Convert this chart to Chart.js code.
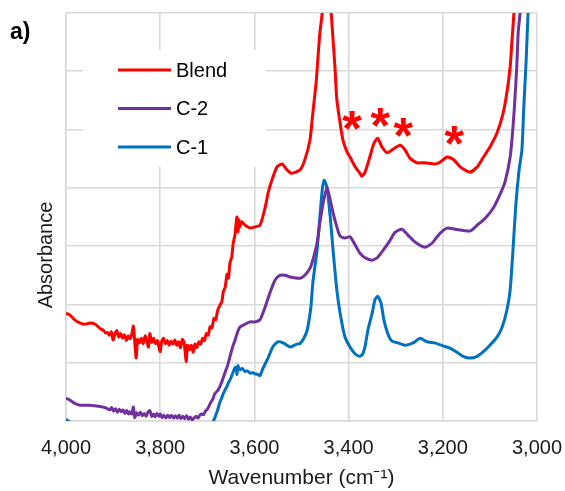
<!DOCTYPE html>
<html>
<head>
<meta charset="utf-8">
<script src="https://cdn.jsdelivr.net/npm/chart.js@4.4.1/dist/chart.umd.min.js"></script>
<style>
  html, body { margin: 0; padding: 0; background: #fff; }
  #chart { display: block; }
</style>
</head>
<body>
<canvas id="chart" width="565" height="491"></canvas>
<script>
// Series names (legend order)
const seriesNames = ['Blend', 'C-2', 'C-1'];

// [wavenumber, absorbance] (offset, arbitrary units)
const blend = [
    [4000, 1.85], [3992, 1.82], [3981, 1.73], [3970, 1.68], [3960, 1.66], [3949, 1.68],
    [3938, 1.66], [3928, 1.59], [3920, 1.55], [3916, 1.51], [3912, 1.52], [3908, 1.47],
    [3904, 1.53], [3900, 1.39], [3896, 1.50], [3892, 1.55], [3888, 1.44], [3884, 1.50],
    [3880, 1.42], [3876, 1.48], [3872, 1.38], [3868, 1.46], [3864, 1.41], [3860, 1.50],
    [3857, 1.63], [3854, 1.35], [3851, 1.08], [3848, 1.40], [3844, 1.34], [3840, 1.42],
    [3836, 1.33], [3832, 1.46], [3828, 1.36], [3825, 1.27], [3822, 1.50], [3818, 1.35],
    [3814, 1.42], [3810, 1.33], [3806, 1.38], [3803, 1.28], [3800, 1.19], [3797, 1.36],
    [3793, 1.42], [3789, 1.33], [3785, 1.38], [3781, 1.30], [3777, 1.37], [3773, 1.32],
    [3769, 1.39], [3765, 1.30], [3761, 1.36], [3757, 1.26], [3753, 1.40], [3749, 1.34],
    [3745, 1.02], [3742, 1.30], [3738, 1.22], [3734, 1.30], [3730, 1.18], [3726, 1.32],
    [3722, 1.26], [3718, 1.36], [3714, 1.32], [3710, 1.42], [3706, 1.38], [3702, 1.50],
    [3698, 1.47], [3694, 1.62], [3690, 1.60], [3686, 1.76], [3682, 1.74], [3678, 1.90],
    [3673, 1.99], [3669, 2.05], [3666, 2.22], [3662, 2.30], [3658, 2.52], [3655, 2.45],
    [3652, 2.71], [3648, 2.82], [3645, 3.05], [3641, 3.20], [3639, 3.38], [3637, 3.50],
    [3635, 3.25], [3633, 3.45], [3631, 3.33], [3627, 3.42], [3620, 3.36], [3609, 3.31],
    [3599, 3.33], [3588, 3.36], [3577, 3.67], [3571, 3.91], [3563, 4.13], [3552, 4.36],
    [3541, 4.41], [3531, 4.31], [3520, 4.25], [3503, 4.31], [3493, 4.48], [3482, 4.82],
    [3476, 5.28], [3469, 5.80], [3465, 6.24], [3461, 6.66], [3456, 7.00], [3447, 8.00],
    [3437, 7.00], [3433, 6.54], [3429, 6.07], [3425, 5.51], [3418, 5.11], [3412, 4.82],
    [3403, 4.61], [3397, 4.53], [3386, 4.36], [3376, 4.25], [3372, 4.20], [3365, 4.27],
    [3355, 4.53], [3346, 4.77], [3338, 4.85], [3329, 4.70], [3318, 4.60], [3308, 4.65],
    [3291, 4.73], [3280, 4.65], [3270, 4.51], [3255, 4.43], [3238, 4.43], [3217, 4.41],
    [3206, 4.44], [3191, 4.53], [3178, 4.49], [3163, 4.36], [3142, 4.27], [3127, 4.36],
    [3115, 4.51], [3100, 4.70], [3085, 4.94], [3072, 5.28], [3064, 5.63], [3057, 6.07],
    [3053, 6.54], [3049, 7.00], [3040, 8.30], [3000, 12.0]
];

const c2 = [
    [4000, 0.39], [3992, 0.36], [3981, 0.30], [3970, 0.27], [3949, 0.27], [3938, 0.26],
    [3928, 0.25], [3917, 0.23], [3907, 0.19], [3903, 0.23], [3899, 0.17], [3895, 0.21],
    [3891, 0.15], [3887, 0.20], [3883, 0.16], [3879, 0.19], [3875, 0.13], [3871, 0.18],
    [3867, 0.12], [3864, 0.16], [3860, 0.12], [3857, 0.24], [3854, 0.06], [3850, 0.14],
    [3846, 0.10], [3842, 0.15], [3838, 0.09], [3834, 0.13], [3830, 0.08], [3826, 0.15],
    [3822, 0.18], [3818, 0.08], [3814, 0.12], [3811, 0.07], [3807, 0.13], [3803, 0.08],
    [3800, 0.12], [3796, 0.06], [3792, 0.10], [3788, 0.05], [3784, 0.10], [3780, 0.06],
    [3776, 0.10], [3772, 0.05], [3768, 0.09], [3764, 0.05], [3760, 0.10], [3756, 0.04],
    [3752, 0.08], [3748, 0.04], [3744, 0.09], [3740, 0.03], [3736, 0.07], [3732, 0.02],
    [3728, 0.05], [3724, 0.08], [3720, 0.05], [3716, 0.10], [3712, 0.12], [3708, 0.11],
    [3704, 0.17], [3700, 0.20], [3696, 0.26], [3692, 0.33], [3688, 0.38], [3684, 0.47],
    [3678, 0.52], [3673, 0.60], [3668, 0.70], [3662, 0.84], [3657, 0.95], [3652, 1.10],
    [3647, 1.25], [3641, 1.39], [3636, 1.52], [3631, 1.61], [3620, 1.66], [3609, 1.70],
    [3599, 1.70], [3588, 1.74], [3577, 1.96], [3567, 2.20], [3556, 2.42], [3546, 2.50],
    [3535, 2.50], [3524, 2.47], [3503, 2.45], [3493, 2.50], [3482, 2.62], [3476, 2.76],
    [3467, 3.05], [3461, 3.40], [3454, 3.74], [3446, 4.00], [3439, 3.79], [3433, 3.57],
    [3425, 3.33], [3418, 3.17], [3408, 3.14], [3397, 3.16], [3386, 3.02], [3376, 2.88],
    [3365, 2.80], [3350, 2.76], [3338, 2.81], [3323, 2.97], [3312, 3.10], [3301, 3.24],
    [3287, 3.29], [3274, 3.19], [3259, 3.07], [3238, 2.98], [3223, 3.05], [3206, 3.22],
    [3191, 3.31], [3174, 3.29], [3142, 3.26], [3127, 3.36], [3110, 3.48], [3093, 3.65],
    [3079, 3.88], [3068, 4.10], [3057, 4.53], [3051, 5.04], [3047, 5.51], [3043, 6.07],
    [3040, 6.66], [3036, 7.00], [3028, 8.50], [3000, 12.0]
];

const c1 = [
    [4000, 0.03], [3990, -0.03], [3970, -0.12], [3900, -0.25], [3800, -0.30], [3720, -0.22],
    [3700, -0.12], [3688, -0.02], [3682, 0.10], [3677, 0.22], [3673, 0.33], [3670, 0.38],
    [3667, 0.45], [3663, 0.52], [3658, 0.60], [3655, 0.66], [3652, 0.70], [3648, 0.78],
    [3645, 0.84], [3641, 0.92], [3638, 0.86], [3637, 0.80], [3635, 0.95], [3633, 0.90],
    [3631, 0.88], [3626, 0.90], [3620, 0.85], [3615, 0.86], [3609, 0.82], [3604, 0.83],
    [3599, 0.81], [3593, 0.80], [3588, 0.78], [3582, 0.90], [3571, 1.08], [3561, 1.27],
    [3550, 1.36], [3539, 1.34], [3524, 1.27], [3510, 1.32], [3503, 1.33], [3495, 1.42],
    [3488, 1.56], [3480, 1.96], [3476, 2.37], [3467, 2.93], [3461, 3.50], [3456, 3.96],
    [3452, 4.13], [3446, 4.01], [3439, 3.50], [3433, 2.93], [3425, 2.25], [3418, 1.85],
    [3408, 1.45], [3397, 1.27], [3386, 1.15], [3376, 1.11], [3370, 1.15], [3365, 1.28],
    [3359, 1.56], [3350, 1.85], [3344, 2.08], [3338, 2.14], [3331, 2.02], [3325, 1.73],
    [3316, 1.48], [3308, 1.37], [3295, 1.34], [3280, 1.30], [3263, 1.34], [3248, 1.42],
    [3234, 1.36], [3217, 1.34], [3200, 1.29], [3185, 1.25], [3170, 1.18], [3157, 1.11],
    [3142, 1.08], [3127, 1.11], [3115, 1.18], [3100, 1.30], [3085, 1.44], [3074, 1.61],
    [3064, 1.90], [3057, 2.25], [3051, 2.93], [3045, 3.70], [3038, 4.31], [3032, 4.65],
    [3028, 5.39], [3023, 6.19], [3019, 7.00], [3010, 8.50], [3000, 10.0]
];

// Asterisk marks above the Blend bands
const asteriskWave = [3393, 3333, 3284, 3176];
const asteriskAbs = [5.16, 5.21, 5.03, 4.89];

// Axis settings
const xMin = 3000, xMax = 4000, xStep = 200;
const yMin = 0, yMax = 7;

const colors = ['#ff0000', '#7030a0', '#0070c0'];
const FONT = "'Liberation Sans', Arial, sans-serif";
Chart.defaults.font.family = FONT;

function toPoints(arr) {
    return arr.map(p => ({ x: p[0], y: p[1] }));
}

// white legend box inside the plot, like the reference
const legendBox = {
    id: 'legendBox',
    beforeDatasetsDraw(chart) {
        const ctx = chart.ctx;
        const a = chart.chartArea;
        const x0 = a.left + 17, y0 = a.top + 37;
        ctx.save();
        ctx.fillStyle = '#fff';
        ctx.fillRect(x0, y0, 183, 117);
        ctx.font = '20px ' + FONT;
        ctx.textBaseline = 'middle';
        seriesNames.forEach((name, i) => {
            const y = a.top + 57 + i * 38.5;
            ctx.strokeStyle = colors[i];
            ctx.lineWidth = 3;
            ctx.beginPath();
            ctx.moveTo(a.left + 52, y);
            ctx.lineTo(a.left + 105, y);
            ctx.stroke();
            ctx.fillStyle = '#000';
            ctx.fillText(name, a.left + 110, y + 1);
        });
        ctx.restore();
    }
};

const extras = {
    id: 'extras',
    afterDatasetsDraw(chart) {
        const ctx = chart.ctx;
        const xs = chart.scales.x, ys = chart.scales.y;
        ctx.save();
        ctx.fillStyle = '#ff0000';
        ctx.font = 'bold 50px ' + FONT;
        ctx.textAlign = 'center';
        ctx.textBaseline = 'alphabetic';
        const m = ctx.measureText('*');
        const mid = (m.actualBoundingBoxAscent - m.actualBoundingBoxDescent) / 2;
        asteriskWave.forEach((w, i) => {
            const px = xs.getPixelForValue(w);
            const py = ys.getPixelForValue(asteriskAbs[i]);
            ctx.fillText('*', px, py + mid);
        });
        ctx.restore();
    },
    afterDraw(chart) {
        const ctx = chart.ctx;
        ctx.save();
        ctx.fillStyle = '#000';
        ctx.font = 'bold 23px ' + FONT;
        ctx.textBaseline = 'alphabetic';
        ctx.fillText('a)', 10, 39);
        // y axis title
        ctx.fillStyle = '#1a1a1a';
        ctx.font = '20px ' + FONT;
        ctx.translate(46, 255);
        ctx.rotate(-Math.PI / 2);
        ctx.textAlign = 'center';
        ctx.textBaseline = 'middle';
        ctx.fillText('Absorbance', 0, 0);
        ctx.restore();
    }
};

const ctx = document.getElementById('chart').getContext('2d');
new Chart(ctx, {
    type: 'line',
    data: {
        datasets: [blend, c2, c1].map((d, i) => ({
            label: seriesNames[i],
            data: toPoints(d),
            borderColor: colors[i],
            backgroundColor: colors[i],
            borderWidth: 3,
            pointRadius: 0,
            tension: 0.2,
            fill: false
        }))
    },
    options: {
        responsive: false,
        animation: false,
        devicePixelRatio: 1,
        layout: { padding: { top: 13, right: 28, left: 0, bottom: 0 } },
        plugins: {
            legend: { display: false },
            tooltip: { enabled: false }
        },
        scales: {
            x: {
                type: 'linear',
                reverse: true,
                min: xMin,
                max: xMax,
                ticks: {
                    stepSize: xStep,
                    color: '#1a1a1a',
                    font: { size: 20 },
                    padding: 15,
                    maxRotation: 0
                },
                grid: { color: '#d9d9d9', lineWidth: 1.6, drawTicks: false },
                border: { color: '#d9d9d9', width: 1.6 },
                title: {
                    display: true,
                    text: 'Wavenumber (cm⁻¹)',
                    color: '#1a1a1a',
                    font: { size: 21 },
                    padding: { top: 0, bottom: 0 }
                },
                afterFit(scale) {
                    scale.height = 70;
                    scale.paddingLeft = 0;
                    scale.paddingRight = 0;
                }
            },
            y: {
                min: yMin,
                max: yMax,
                ticks: { stepSize: 1, display: false },
                grid: { color: '#d9d9d9', lineWidth: 1.6, drawTicks: false },
                border: { color: '#d9d9d9', width: 1.6 },
                afterFit(scale) { scale.width = 66; }
            }
        }
    },
    plugins: [legendBox, extras]
});
</script>
</body>
</html>
